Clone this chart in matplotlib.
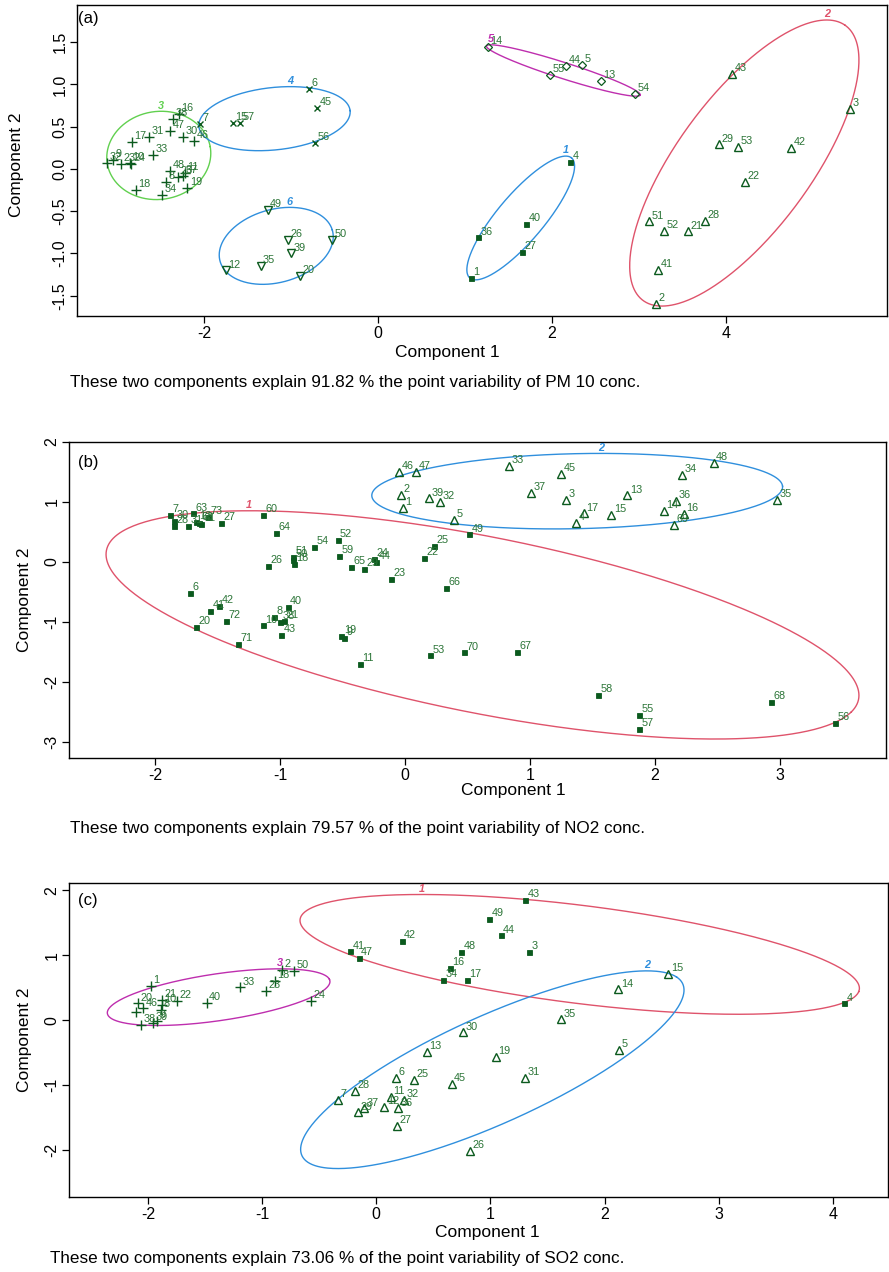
import numpy as np
import matplotlib
matplotlib.use("Agg")
import matplotlib.pyplot as plt

plt.rcParams['font.family'] = ['Liberation Sans', 'DejaVu Sans']
plt.rcParams['axes.unicode_minus'] = False

# ---------------- Panel (a) : PM10 ----------------
a1_lab = ["4", "40", "36", "27", "1"]
a1_x = [2.21, 1.70, 1.15, 1.66, 1.07]
a1_y = [0.08, -0.65, -0.81, -0.98, -1.29]

a2_lab = ["43", "3", "29", "53", "42", "22", "51", "52", "21", "28", "41", "2"]
a2_x = [4.07, 5.43, 3.92, 4.14, 4.75, 4.22, 3.11, 3.29, 3.56, 3.755, 3.22, 3.19]
a2_y = [1.12, 0.71, 0.29, 0.26, 0.245, -0.15, -0.62, -0.73, -0.74, -0.615, -1.19, -1.60]

a3_lab = ["16", "38", "47", "31", "17", "30", "46", "33", "32", "9", "23", "10", "24",
          "48", "11", "37", "25", "8", "19", "18", "34"]
a3_x = [-2.287, -2.353, -2.391, -2.628, -2.831, -2.238, -2.115, -2.590, -3.111, -3.041,
        -2.957, -2.851, -2.839, -2.391, -2.218, -2.245, -2.295, -2.437, -2.192, -2.785, -2.486]
a3_y = [0.651, 0.592, 0.453, 0.382, 0.316, 0.382, 0.335, 0.166, 0.067, 0.106,
        0.055, 0.074, 0.055, -0.024, -0.051, -0.083, -0.098, -0.150, -0.222, -0.249, -0.308]

a4_lab = ["7", "15", "57", "6", "45", "56"]
a4_x = [-2.05, -1.67, -1.59, -0.79, -0.70, -0.72]
a4_y = [0.53, 0.54, 0.54, 0.95, 0.72, 0.31]

a5_lab = ["14", "44", "5", "55", "13", "54"]
a5_x = [1.26, 2.16, 2.34, 1.98, 2.56, 2.95]
a5_y = [1.44, 1.22, 1.23, 1.11, 1.04, 0.89]

a6_lab = ["49", "26", "50", "39", "35", "12", "20"]
a6_x = [-1.27, -1.04, -0.525, -1.00, -1.35, -1.75, -0.90]
a6_y = [-0.485, -0.84, -0.84, -1.00, -1.15, -1.20, -1.27]

# cluster ellipses (a): centre x, centre y, semi-axis a, semi-axis b, angle (deg)
a_ell_cx = [1.64, 4.21, -2.52, -1.19, 2.13, -1.17]
a_ell_cy = [-0.58, 0.07, 0.16, 0.595, 1.165, -0.91]
a_ell_a = [0.92, 2.00, 0.60, 0.874, 0.93, 0.671]
a_ell_b = [0.27, 0.775, 0.52, 0.369, 0.095, 0.432]
a_ell_ang = [50.7, 54.7, 10.0, 6.3, -18.2, 16.3]

# ---------------- Panel (b) : NO2 ----------------
b1_lab = ["7", "63", "30", "28", "31", "12", "62", "61", "73", "27", "60", "64", "54", "52",
          "59", "51", "18", "50", "26", "65", "29", "24", "44", "23", "22", "25", "49", "66",
          "6", "41", "42", "20", "72", "71", "10", "8", "40", "38", "21", "43", "19", "9",
          "11", "53", "70", "67", "58", "55", "57", "68", "56"]
b1_x = [-1.88, -1.70, -1.85, -1.85, -1.74, -1.67, -1.65, -1.63, -1.58, -1.47, -1.14, -1.03,
        -0.73, -0.54, -0.53, -0.90, -0.89, -0.90, -1.10, -0.43, -0.33, -0.25, -0.23, -0.11,
        0.15, 0.23, 0.51, 0.33, -1.72, -1.56, -1.49, -1.67, -1.43, -1.34, -1.14, -1.05, -0.94,
        -1.00, -0.97, -0.99, -0.51, -0.49, -0.36, 0.20, 0.47, 0.90, 1.544, 1.87, 1.87, 2.93, 3.44]
b1_y = [0.78, 0.81, 0.69, 0.60, 0.60, 0.67, 0.645, 0.63, 0.745, 0.645, 0.78, 0.49,
        0.255, 0.37, 0.105, 0.08, -0.03, 0.03, -0.07, -0.08, -0.11, 0.045, 0.005, -0.29,
        0.07, 0.27, 0.46, -0.43, -0.51, -0.82, -0.73, -1.08, -0.99, -1.37, -1.06, -0.92, -0.745,
        -1.00, -0.98, -1.22, -1.23, -1.27, -1.70, -1.56, -1.51, -1.505, -2.22, -2.545, -2.78, -2.33, -2.69]

b2_lab = ["46", "47", "2", "1", "39", "32", "5", "33", "37", "45", "3", "4", "17", "15",
          "13", "34", "48", "36", "14", "16", "69", "35"]
b2_x = [-0.05, 0.09, -0.03, -0.02, 0.19, 0.28, 0.39, 0.83, 1.01, 1.25, 1.29, 1.37, 1.43, 1.65,
        1.78, 2.22, 2.47, 2.17, 2.07, 2.23, 2.15, 2.98]
b2_y = [1.505, 1.505, 1.12, 0.905, 1.06, 1.005, 0.70, 1.605, 1.145, 1.47, 1.03, 0.655, 0.81, 0.78,
        1.11, 1.445, 1.645, 1.02, 0.85, 0.795, 0.62, 1.03]

b_ell_cx = [0.62, 1.378]
b_ell_cy = [-1.05, 1.18]
b_ell_a = [3.29, 1.646]
b_ell_b = [1.371, 0.625]
b_ell_ang = [-26.2, 2.9]

# ---------------- Panel (c) : SO2 ----------------
c1_lab = ["43", "49", "44", "42", "48", "3", "41", "47", "16", "34", "17", "4"]
c1_x = [1.302, 0.989, 1.089, 0.222, 0.744, 1.335, -0.228, -0.154, 0.645, 0.581, 0.794, 4.098]
c1_y = [1.846, 1.554, 1.303, 1.215, 1.051, 1.046, 1.057, 0.958, 0.805, 0.615, 0.615, 0.257]

c2_lab = ["35", "30", "13", "19", "31", "6", "25", "45", "28", "7", "11", "32", "12", "36",
          "37", "29", "27", "26", "15", "14", "5"]
c2_x = [1.615, 0.762, 0.441, 1.048, 1.299, 0.173, 0.330, 0.660, -0.187, -0.333, 0.126, 0.245,
        0.070, 0.193, -0.108, -0.158, 0.179, 0.820, 2.557, 2.119, 2.128]
c2_y = [0.011, -0.189, -0.488, -0.565, -0.888, -0.888, -0.923, -0.985, -1.088, -1.231, -1.180,
        -1.231, -1.334, -1.358, -1.358, -1.420, -1.631, -2.011, 0.708, 0.472, -0.462]

c3_lab = ["1", "20", "46", "", "21", "10", "22", "8", "38", "39", "9", "40", "33", "23", "18",
          "2", "50", "24"]
c3_x = [-1.973, -2.084, -2.040, -2.104, -1.879, -1.879, -1.748, -1.885, -2.060, -1.953, -1.918,
        -1.485, -1.194, -0.968, -0.887, -0.828, -0.721, -0.574]
c3_y = [0.528, 0.257, 0.180, 0.128, 0.308, 0.231, 0.292, 0.154, -0.077, -0.042, -0.011,
        0.266, 0.503, 0.446, 0.605, 0.769, 0.758, 0.292]

c_ell_cx = [1.781, 1.016, -1.380]
c_ell_cy = [1.012, -0.762, 0.354]
c_ell_a = [2.509, 2.153, 1.008]
c_ell_b = [0.741, 0.702, 0.352]
c_ell_ang = [-13.2, 41.5, 15.8]

captions = [
    "These two components explain 91.82 % the point variability of PM 10 conc.",
    "These two components explain 79.57 % of the point variability of NO2 conc.",
    "These two components explain 73.06 % of the point variability of SO2 conc.",
]

# ---------------- styles ----------------
RED, GREEN, BLUE, MAG = "#DF536B", "#61D04F", "#2F8FDD", "#BE2EAE"
PT = "#0B5A1E"
LBL = "#2A7436"
W, H = 889, 1272

MK = {
    "sq": dict(marker="s", markersize=3.6, markerfacecolor=PT, markeredgecolor=PT, markeredgewidth=0.6),
    "tri": dict(marker="^", markersize=5.4, markerfacecolor="none", markeredgecolor=PT, markeredgewidth=1.0),
    "plus": dict(marker="+", markersize=7, markeredgecolor=PT, markeredgewidth=1.0),
    "x": dict(marker="x", markersize=4.6, markeredgecolor=PT, markeredgewidth=1.0),
    "dia": dict(marker="D", markersize=4.0, markerfacecolor="none", markeredgecolor=PT, markeredgewidth=0.9),
    "vtri": dict(marker="v", markersize=5.4, markerfacecolor="none", markeredgecolor=PT, markeredgewidth=1.0),
}

fig = plt.figure(figsize=(W / 100, H / 100), dpi=100)


def make_ax(l, r, t, b):
    return fig.add_axes([l / W, 1 - b / H, (r - l) / W, (b - t) / H])


def draw_cluster(ax, xs, ys, labs, mk):
    ax.plot(xs, ys, ls="none", **MK[mk], zorder=3)
    for x, y, s in zip(xs, ys, labs):
        ax.annotate(s, (x, y), xytext=(1.8, 0.6), textcoords="offset points",
                    fontsize=7.8, color=LBL, ha="left", va="bottom", zorder=4)


def draw_ellipse(ax, cx, cy, a, b, ang, col, num):
    t = np.linspace(0, 2 * np.pi, 500)
    th = np.deg2rad(ang)
    ex = cx + a * np.cos(t) * np.cos(th) - b * np.sin(t) * np.sin(th)
    ey = cy + a * np.cos(t) * np.sin(th) + b * np.sin(t) * np.cos(th)
    ax.plot(ex, ey, color=col, lw=1.0, zorder=2)
    i = np.argmax(ey)
    ax.annotate(str(num), (ex[i], ey[i]), xytext=(0, 0.5), textcoords="offset points",
                fontsize=7.8, color=col, ha="center", va="bottom", style="italic",
                fontweight="bold", zorder=4)


def style_ax(ax, xlim, ylim, xt, yt, ytl=None):
    ax.set_xlim(*xlim)
    ax.set_ylim(*ylim)
    ax.set_xticks(xt)
    ax.set_yticks(yt)
    if ytl is not None:
        ax.set_yticklabels(ytl)
    for sp in ax.spines.values():
        sp.set_linewidth(1.0)
        sp.set_color("black")
    ax.tick_params(direction="out", length=5, width=0.9, labelsize=11.5, pad=2)
    for lab in ax.get_yticklabels():
        lab.set_rotation(90)
        lab.set_va("center")


# ---- Panel (a)
axa = make_ax(77, 887, 5, 316)
a_clusters = [(a1_x, a1_y, a1_lab, "sq"), (a2_x, a2_y, a2_lab, "tri"), (a3_x, a3_y, a3_lab, "plus"),
              (a4_x, a4_y, a4_lab, "x"), (a5_x, a5_y, a5_lab, "dia"), (a6_x, a6_y, a6_lab, "vtri")]
a_cols = [BLUE, RED, GREEN, BLUE, MAG, BLUE]
for k, (xs, ys, ls, mk) in enumerate(a_clusters):
    draw_cluster(axa, xs, ys, ls, mk)
    draw_ellipse(axa, a_ell_cx[k], a_ell_cy[k], a_ell_a[k], a_ell_b[k], a_ell_ang[k], a_cols[k], k + 1)
style_ax(axa, (-3.46, 5.85), (-1.74, 1.94), [-2, 0, 2, 4], [-1.5, -1.0, -0.5, 0.0, 0.5, 1.0, 1.5],
         ["-1.5", "-1.0", "-0.5", "0.0", "0.5", "1.0", "1.5"])

# ---- Panel (b)
axb = make_ax(69, 886, 442, 758)
b_clusters = [(b1_x, b1_y, b1_lab, "sq"), (b2_x, b2_y, b2_lab, "tri")]
b_cols = [RED, BLUE]
for k, (xs, ys, ls, mk) in enumerate(b_clusters):
    draw_cluster(axb, xs, ys, ls, mk)
    draw_ellipse(axb, b_ell_cx[k], b_ell_cy[k], b_ell_a[k], b_ell_b[k], b_ell_ang[k], b_cols[k], k + 1)
style_ax(axb, (-2.69, 3.85), (-3.27, 2.0), [-2, -1, 0, 1, 2, 3], [-3, -2, -1, 0, 1, 2])

# ---- Panel (c)
axc = make_ax(69, 888, 883, 1197)
c_clusters = [(c1_x, c1_y, c1_lab, "sq"), (c2_x, c2_y, c2_lab, "tri"), (c3_x, c3_y, c3_lab, "plus")]
c_cols = [RED, BLUE, MAG]
for k, (xs, ys, ls, mk) in enumerate(c_clusters):
    draw_cluster(axc, xs, ys, ls, mk)
    draw_ellipse(axc, c_ell_cx[k], c_ell_cy[k], c_ell_a[k], c_ell_b[k], c_ell_ang[k], c_cols[k], k + 1)
style_ax(axc, (-2.69, 4.48), (-2.72, 2.11), [-2, -1, 0, 1, 2, 3, 4], [-2, -1, 0, 1, 2])

# ---- texts
for (x, y, s) in [(78, 18, "(a)"), (78, 462, "(b)"), (78, 900, "(c)")]:
    fig.text(x / W, 1 - y / H, s, fontsize=12, ha="left", va="center")
for (x, y) in [(447, 353), (513, 790), (487, 1232)]:
    fig.text(x / W, 1 - y / H, "Component 1", fontsize=12.5, ha="center", va="center")
for (x, y) in [(17, 165), (25, 600), (25, 1040)]:
    fig.text(x / W, 1 - y / H, "Component 2", fontsize=12.5, ha="center", va="center", rotation=90)
for (x, y), s in zip([(70, 383), (70, 828), (50, 1259)], captions):
    fig.text(x / W, 1 - y / H, s, fontsize=12.3, ha="left", va="center")

fig.savefig("out.png", dpi=100)
